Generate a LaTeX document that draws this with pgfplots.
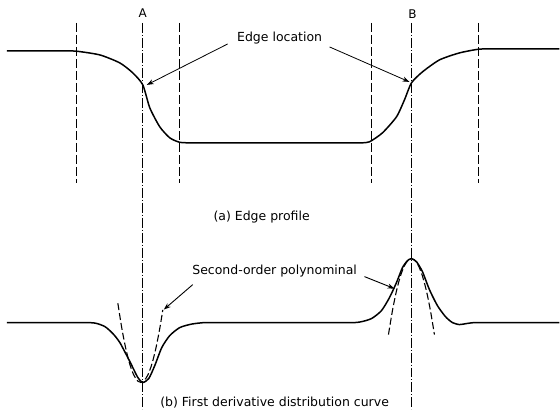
\documentclass[border=0pt]{standalone}
\usepackage{pgfplots}
\pgfplotsset{compat=1.18}
\usepackage{fontspec}
\setmainfont{DejaVu Sans}
\usetikzlibrary{arrows.meta}
\begin{document}
\begin{tikzpicture}
\begin{axis}[
  scale only axis, width=560pt, height=416pt,
  xmin=0, xmax=560, ymin=0, ymax=416, y dir=reverse,
  hide axis, clip=false,
]
\path (axis cs:0,0) rectangle (axis cs:560,416);
% vertical dashed guide lines
\addplot[black, line width=0.9pt, dash pattern=on 9pt off 3pt] coordinates {(77,23) (77,183)};
\addplot[black, line width=0.9pt, dash pattern=on 9pt off 3pt] coordinates {(180,23) (180,183)};
\addplot[black, line width=0.9pt, dash pattern=on 9pt off 3pt] coordinates {(372,23) (372,183)};
\addplot[black, line width=0.9pt, dash pattern=on 9pt off 3pt] coordinates {(479,23) (479,183)};
\addplot[black, line width=0.9pt, dash pattern=on 10pt off 2pt on 1pt off 2pt] coordinates {(143,23) (143,410)};
\addplot[black, line width=0.9pt, dash pattern=on 10pt off 2pt on 1pt off 2pt] coordinates {(412,23) (412,410)};
% edge profile
\addplot[black, line width=1.5pt, smooth, tension=0.4, line join=round] coordinates {
 (7,51) (65,51) (77,51.3) (100,55) (120,63) (133,73) (143,85) (150,108) (160,127) (170,138) (180,142.5) (192,143) (205,143)
 (350,143) (362,143) (370,142) (383,133) (397,117) (405,100) (412,83) (423,72) (440,60) (460,53) (479,49.3) (492,49) (560,49)};
% first derivative curve
\addplot[black, line width=1.5pt, smooth, tension=0.4, line join=round] coordinates {
 (7,323) (80,323) (95,323.5) (105,327) (113,334) (120,343) (130,362) (138,378) (143,383) (149,379) (155,366) (162,348) (170,336) (180,328) (192,324.5) (205,323) (220,323)
 (345,323) (360,322.5) (372,319) (382,311) (390,298) (397,283) (403,268) (408,261) (412,259) (417,262) (423,272) (430,290) (438,306) (446,317) (453,323) (460,325) (467,324) (475,323) (490,323) (560,323)};
% second-order polynomial fits
\addplot[black, line width=1.1pt, dash pattern=on 7pt off 3pt, smooth] coordinates {
 (118,303.6) (122,328.8) (126,349.2) (130,364.8) (134,375.6) (138,381.6) (141,383) (144,381.6) (148,375.6) (152,364.8) (156,349.2) (160,328.8) (163,310.4)};
\addplot[black, line width=1.1pt, dash pattern=on 7pt off 3pt, smooth] coordinates {
 (389,335) (393,310.9) (397,291.3) (401,276.4) (405,266) (409,260.3) (412,259) (415,260.3) (419,266) (423,276.4) (427,291.3) (431,310.9) (435,335)};
% labels
\node[font=\fontsize{12}{14}\selectfont] at (axis cs:143,13) {A};
\node[font=\fontsize{12}{14}\selectfont] at (axis cs:413,14) {B};
\node[font=\fontsize{12.5}{14}\selectfont] at (axis cs:280,38) {Edge location};
\draw[line width=0.8pt, -{Stealth[length=7pt,width=5pt]}] (axis cs:228,44) -- (axis cs:147,85);
\draw[line width=0.8pt, -{Stealth[length=7pt,width=5pt]}] (axis cs:330,47) -- (axis cs:410,82);
\node[font=\fontsize{12.5}{14}\selectfont] at (axis cs:262,217) {(a) Edge profile};
\node[font=\fontsize{12.5}{14}\selectfont] at (axis cs:275,271) {Second-order polynominal};
\draw[line width=0.9pt, -{Stealth[length=7pt,width=5pt]}] (axis cs:193,285) -- (axis cs:164,310);
\draw[line width=0.9pt, -{Stealth[length=7pt,width=5pt]}] (axis cs:365,277) -- (axis cs:395,289);
\node[font=\fontsize{12.5}{14}\selectfont] at (axis cs:275,403) {(b) First derivative distribution curve};
\end{axis}
\end{tikzpicture}
\end{document}
